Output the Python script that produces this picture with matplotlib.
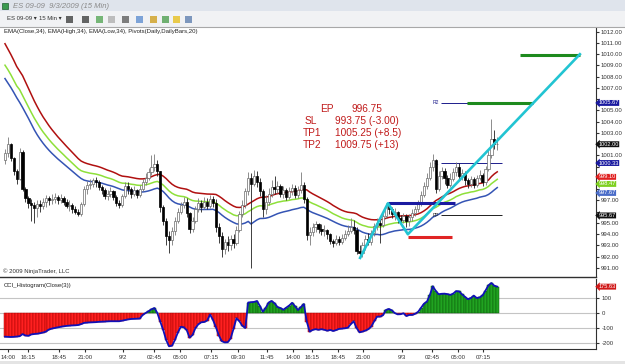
import numpy as np
import matplotlib
matplotlib.use("Agg")
import matplotlib.pyplot as plt
from matplotlib.patches import Rectangle
import matplotlib.transforms as mtransforms

plt.rcParams['font.family'] = ['Liberation Sans', 'DejaVu Sans']

# ---- 15 min ES bars, 9/1 14:00 -> 9/3 ~08:00 ----
first_open = 1000.6
closes = [
    1001.2, 1002.0, 1000.8, 999.6, 998.9, 1001.3, 998.0, 997.2, 996.8, 996.6,
    996.3, 996.7, 996.5, 996.9, 997.2, 997.0, 997.1, 997.3, 997.0, 997.2,
    996.9, 996.5, 996.6, 996.2, 996.0, 995.8, 996.7, 998.0, 998.4, 998.5,
    998.8, 998.6, 998.2, 997.9, 997.4, 997.6, 997.8, 997.3, 996.8, 996.6,
    997.4, 998.3, 998.0, 997.6, 997.9, 997.5, 998.0, 998.6, 999.0, 999.5,
    1000.0, 1000.2, 999.6, 996.4, 995.2, 993.8, 993.5, 994.3, 995.2, 996.0,
    996.6, 996.9, 995.9, 994.5, 995.2, 996.2, 996.8, 996.4, 996.9, 996.5,
    997.1, 996.8, 994.6, 993.8, 992.7, 993.3, 993.0, 993.6, 993.2, 994.4,
    995.8, 996.6, 997.8, 999.0, 998.5, 999.2, 998.6, 997.8, 996.2, 996.9,
    997.6, 998.2, 998.0, 998.3, 997.6, 997.9, 997.3, 997.8, 998.1, 997.5,
    997.9, 998.4, 997.1, 993.9, 994.2, 994.6, 994.9, 994.5, 994.3, 994.4,
    994.0, 993.4, 993.2, 993.6, 993.3, 993.7, 994.0, 994.3, 994.6, 994.4,
    992.5, 992.3, 993.0, 993.6, 993.3, 994.1, 994.7, 995.0, 994.8, 995.6,
    996.5, 996.2, 995.8, 996.0, 995.4, 995.3, 995.6, 995.2, 995.5, 995.9,
    996.2, 996.7, 997.5, 998.3, 999.0, 1000.0, 1000.6, 998.0, 999.2, 999.6,
    999.0, 998.4, 998.9, 999.5, 1000.0, 999.2, 999.4, 998.8, 998.5, 998.9,
    998.4, 999.0, 999.3, 998.6, 999.8, 1001.0, 1002.5, 1002.0, 1002.0,
]
highs = [
    1001.6, 1002.6, 1002.1, 1000.9, 999.8, 1001.7, 1001.5, 998.2, 997.4, 997.1,
    996.9, 997.0, 997.0, 997.2, 997.5, 997.4, 997.6, 997.7, 997.5, 997.6,
    997.4, 997.1, 997.0, 996.8, 996.5, 996.2, 996.9, 998.3, 998.7, 998.9,
    999.0, 999.1, 998.8, 998.4, 998.1, 997.9, 998.2, 997.9, 997.5, 997.0,
    997.6, 998.6, 998.6, 998.2, 998.3, 998.0, 998.4, 998.9, 999.4, 999.9,
    1001.0, 1001.1, 1000.6, 999.5, 996.6, 995.4, 994.3, 994.6, 995.5, 996.3,
    996.9, 997.3, 997.2, 996.0, 995.5, 996.5, 997.2, 997.0, 997.3, 997.2,
    997.5, 997.4, 997.1, 995.0, 994.2, 993.6, 993.8, 993.9, 994.0, 994.7,
    996.1, 997.0, 998.1, 999.5, 999.4, 999.7, 999.6, 999.0, 998.0, 997.5,
    998.1, 998.8, 999.2, 998.7, 998.5, 998.3, 998.1, 998.2, 998.5, 998.4,
    998.3, 999.5, 998.6, 997.3, 994.6, 995.0, 995.2, 995.0, 994.9, 994.8,
    994.5, 994.1, 993.6, 993.9, 993.8, 994.0, 994.4, 994.8, 995.4, 995.3,
    994.6, 993.0, 993.3, 993.9, 994.1, 994.4, 995.0, 995.4, 995.4, 995.9,
    996.8, 996.8, 996.4, 996.3, 996.1, 995.7, 995.9, 995.8, 995.8, 996.2,
    996.5, 997.0, 997.8, 998.6, 999.4, 1000.4, 1001.1, 1000.7, 999.6, 1000.0,
    999.9, 999.3, 999.4, 999.9, 1000.4, 1000.3, 999.8, 999.6, 999.0, 999.2,
    999.1, 999.3, 999.7, 999.4, 1000.1, 1001.5, 1004.2, 1003.3, 1002.6,
]
lows = [
    1000.2, 1000.9, 1000.5, 999.3, 998.5, 998.8, 997.8, 996.9, 996.3, 995.2,
    995.0, 995.5, 996.0, 996.2, 996.4, 996.6, 996.7, 996.8, 996.7, 996.8,
    996.6, 996.3, 996.1, 995.9, 995.8, 995.6, 995.6, 996.5, 997.6, 998.0,
    998.2, 998.2, 997.9, 997.6, 997.1, 997.0, 997.3, 997.0, 996.5, 996.3,
    996.4, 997.2, 997.6, 997.2, 997.4, 997.2, 997.3, 997.8, 998.4, 998.8,
    999.3, 999.6, 999.2, 996.0, 994.8, 993.0, 992.3, 993.0, 993.9, 995.0,
    995.8, 996.3, 995.5, 994.1, 994.2, 995.0, 996.0, 996.0, 996.2, 996.2,
    996.3, 996.4, 994.2, 993.2, 992.0, 992.2, 992.5, 992.6, 992.8, 993.0,
    994.2, 995.5, 996.3, 997.5, 991.0, 998.3, 998.2, 997.4, 995.5, 995.8,
    996.6, 997.3, 997.6, 997.7, 997.3, 997.2, 997.0, 997.1, 997.5, 997.2,
    997.2, 997.7, 996.8, 993.5, 993.0, 993.8, 994.2, 994.1, 993.9, 993.8,
    993.6, 993.1, 992.9, 993.0, 993.0, 993.1, 993.5, 993.8, 994.1, 994.0,
    992.2, 991.9, 992.0, 992.6, 993.0, 993.0, 993.8, 994.4, 993.2, 994.6,
    995.4, 995.8, 995.4, 995.3, 995.0, 994.9, 995.0, 994.6, 994.7, 995.2,
    995.6, 996.0, 996.5, 997.3, 998.0, 998.8, 999.6, 997.7, 997.8, 998.9,
    998.5, 998.1, 998.2, 998.7, 999.2, 998.9, 998.8, 998.4, 998.1, 998.2,
    998.1, 998.2, 998.8, 998.3, 998.4, 999.6, 1000.8, 1001.6, 1001.5,
]
# CCI histogram values per bar
cci = [
    -158, -159, -160, -159, -157, -155, -141, -150, -152, -143,
    -140, -138, -135, -130, -124, -110, -104, -100, -96, -92,
    -89, -86, -84, -83, -82, -80, -74, -66, -64, -63,
    -62, -61, -59, -58, -57, -56, -55, -55, -55, -55,
    -51, -47, -43, -40, -39, -38, -37, -13, 0, 12,
    25, 33, 0, -58, -113, -180, -222, -218, -180, -130,
    -92, -95, -113, -164, -147, -100, -75, -62, -60, -50,
    -10, -47, -95, -150, -188, -196, -195, -170, -105, -35,
    -55, -85, -100, 70, 72, 74, 80, 47, 9, 35,
    70, 80, 65, 40, 33, 22, 36, 50, 68, 45,
    20, 40, 60, -58, -124, -113, -108, -112, -108, -112,
    -118, -113, -120, -114, -106, -104, -102, -98, -75, -55,
    -100, -129, -124, -117, -108, -90, -55, -24, -24, -15,
    20, 27, 18, 0, -9, -8, -2, -20, -13, -13,
    -5, 8, 35, 62, 76, 120, 178, 148, 125, 128,
    129, 126, 121, 130, 146, 144, 124, 108, 92, 100,
    116, 100, 104, 118, 150, 185, 200, 182, 176,
]

# EMA starting levels carried over from the previous session (read at left edge)
ema_seed_high, ema_seed_close, ema_seed_low = 1011.5, 1009.5, 1008.3

# time axis labels (bar index positions)
tick_pos = [0.9, 7.8, 18.4, 27.3, 40.3, 50.9, 59.7, 70.3, 79.5, 89.4, 98.3,
            104.8, 113.7, 122.2, 135.5, 145.7, 154.6, 163.1]
tick_lab = ['14:00', '16:15', '18:45', '21:00', '9/2', '02:45', '05:00', '07:15',
            '09:30', '11:45', '14:00', '16:15', '18:45', '21:00', '9/3', '02:45',
            '05:00', '07:15']
# price-axis levels whose tick text sits under a coloured marker
hidden_price_ticks = [1006, 1002, 1000, 999, 998, 996]

# drawn trade setup
zigzag_x = [121.2, 130.7, 137.5, 196.2]
zigzag_y = [991.9, 996.75, 994.0, 1010.0]
ep, sl, tp1_line, tp2 = 996.75, 993.75, 1005.62, 1009.95
pivots = [('R2', 1005.67, '#1c1c8c'), ('R1', 1000.33, '#1c1c8c'), ('PP', 995.67, '#202020')]
trade_text = [('EP', '996.75'), ('SL', '993.75 (-3.00)'),
              ('TP1', '1005.25 (+8.5)'), ('TP2', '1009.75 (+13)')]


def ema(vals, seed, n=34):
    a = 2.0 / (n + 1)
    out, e = [], seed
    for v in vals:
        e = e + a * (v - e)
        out.append(e)
    return np.array(out)


W, H = 625, 364
fig = plt.figure(figsize=(W / 100, H / 100), dpi=100)
fig.patch.set_facecolor('white')


def fx(x):
    return x / W


def fy(y):
    return 1 - y / H


# window chrome
fig.patches.append(Rectangle((0, fy(11)), 1, 11 / H, transform=fig.transFigure,
                             facecolor='#dfe4ec', edgecolor='none', zorder=0))
fig.patches.append(Rectangle((0, fy(27)), 1, 16 / H, transform=fig.transFigure,
                             facecolor='#f1f2f4', edgecolor='none', zorder=0))
fig.patches.append(Rectangle((fx(2), fy(9)), 6 / W, 6 / H, transform=fig.transFigure,
                             facecolor='#3a9a50', edgecolor='#1e5e30', lw=0.5))
fig.text(fx(13), fy(6), 'ES 09-09  9/3/2009 (15 Min)', fontsize=5.5, color='#8a8a8a',
         va='center', style='italic')
fig.text(fx(7), fy(19), 'ES 09-09 \u25be', fontsize=4.3, color='#333', va='center')
fig.text(fx(39), fy(19), '15 Min \u25be', fontsize=4.3, color='#333', va='center')
icons = [(66, '#404040'), (82, '#404040'), (96, '#58a858'), (108, '#b0b0b0'),
         (122, '#606060'), (136, '#6090d0'), (150, '#d0a020'), (162, '#50a050'),
         (173, '#e8c020'), (185, '#6080b0')]
for ix, col in icons:
    fig.patches.append(Rectangle((fx(ix), fy(23)), 7 / W, 7 / H,
                                 transform=fig.transFigure, facecolor=col,
                                 edgecolor='none', alpha=0.8))
fig.add_artist(plt.Line2D([0, 1], [fy(27), fy(27)], transform=fig.transFigure,
                          color='#a8a8a8', lw=0.8))

# ---- price panel ----
ax = fig.add_axes([0, fy(277), 596 / W, (277 - 28) / H])
n = len(closes)
idx = np.arange(n)
opens = [first_open] + closes[:-1]

ax.plot(idx, ema(highs, ema_seed_high), color='#b01010', lw=1.1, zorder=2)
ax.plot(idx, ema(closes, ema_seed_close), color='#8ee03a', lw=1.1, zorder=2)
ax.plot(idx, ema(lows, ema_seed_low), color='#3454b4', lw=1.1, zorder=2)

for i in range(n):
    o, c = opens[i], closes[i]
    hi, lo = max(highs[i], o, c), min(lows[i], o, c)
    up = c >= o
    ax.vlines(i, lo, hi, color='#7a7a7a' if up else '#202020', lw=0.6, zorder=3)
    ax.add_patch(Rectangle((i - 0.38, min(o, c)), 0.76, max(abs(c - o), 0.06),
                           facecolor='white' if up else 'black',
                           edgecolor='#6a6a6a' if up else 'black', lw=0.5, zorder=4))

# pivots
for name, lvl, col in pivots:
    ax.hlines(lvl, 148.8, 169.6, color=col, lw=0.7, zorder=2)
    ax.text(146.0, lvl, name, fontsize=3.6, color=col, va='center', ha='left')

# trade setup drawing
ax.hlines(ep, 130.7, 153.6, color='#1a1aa0', lw=2.2, zorder=5)
ax.hlines(sl, 137.5, 152.6, color='#e02424', lw=2.2, zorder=5)
ax.hlines(tp1_line, 157.7, 180.2, color='#1d8a1d', lw=2.2, zorder=5)
ax.hlines(tp2, 175.8, 196.2, color='#1d8a1d', lw=2.2, zorder=5)
ax.plot(zigzag_x, zigzag_y, color='#22c4d2', lw=1.9, zorder=6)

ax.set_xlim(-1.7, 201.7)
ax.set_ylim(990.2, 1012.33)
ax.yaxis.tick_right()
price_ticks = np.arange(991, 1013, 1.0)
ax.set_yticks(price_ticks)
ax.set_yticklabels(['' if v in hidden_price_ticks else f'{v:.2f}' for v in price_ticks])
ax.tick_params(axis='y', labelsize=4.3, length=2.5, pad=1, colors='#333')
ax.set_xticks([])
for s in ['left', 'top']:
    ax.spines[s].set_visible(False)
ax.spines['right'].set_color('#303030')
ax.spines['bottom'].set_color('#303030')
ax.spines['right'].set_linewidth(0.8)
ax.spines['bottom'].set_linewidth(1.0)

# price markers on the axis
blend = mtransforms.blended_transform_factory(ax.transAxes, ax.transData)
markers = [(1005.67, '#1a1aa0'), (1002.00, '#111111'), (1000.33, '#1a1aa0'),
           (999.10, '#e02020'), (998.47, '#7ed020'), (997.67, '#4a6cc8'),
           (995.67, '#111111')]
for val, bg in markers:
    ax.text(1.004, val, f'{val:.2f}', transform=blend, fontsize=4.1, color='white',
            va='center', ha='left', clip_on=False, zorder=10,
            bbox=dict(boxstyle='larrow,pad=0.08', facecolor=bg, edgecolor='none'))

fig.text(fx(4), fy(31), 'EMA(Close,34), EMA(High,34), EMA(Low,34), Pivots(Daily,DailyBars,20)',
         fontsize=4.3, color='#222', va='center')
fig.text(fx(3), fy(271.5), '\u00a9 2009 NinjaTrader, LLC', fontsize=4.3, color='#333',
         va='center')

label_x = [320, 305, 303, 303]
value_x = [352, 335, 335, 335]
row_y = [109, 121, 133, 145]
for (lab, val), lx, vx, ry in zip(trade_text, label_x, value_x, row_y):
    fig.text(fx(lx), fy(ry), lab, fontsize=7.3, color='#c01a1a', va='center')
    fig.text(fx(vx), fy(ry), val, fontsize=7.3, color='#c01a1a', va='center')

# ---- CCI panel ----
ax2 = fig.add_axes([0, fy(349), 596 / W, (349 - 279) / H])
cci_a = np.array(cci)
for lvl in [100, 0, -100, -200]:
    ax2.axhline(lvl, color='#c4c4c4', lw=0.8, zorder=0)
cols = ['#21a321' if v >= 0 else '#ff2020' for v in cci_a]
edges = ['#0b5a0b' if v >= 0 else '#a30000' for v in cci_a]
ax2.bar(idx, cci_a, width=1.0, color=cols, edgecolor=edges, linewidth=0.35, zorder=2)
ax2.plot(idx, cci_a, color='#1010b8', lw=1.3, zorder=3)
ax2.set_xlim(-1.7, 201.7)
ax2.set_ylim(-240, 226.7)
ax2.yaxis.tick_right()
ax2.set_yticks([100, 0, -100, -200])
ax2.set_yticklabels(['100', '0', '-100', '-200'])
ax2.set_xticks(tick_pos)
ax2.set_xticklabels(tick_lab)
ax2.tick_params(axis='both', labelsize=4.3, length=2.5, pad=1.5, colors='#333')
ax2.spines['left'].set_visible(False)
ax2.spines['top'].set_visible(False)
ax2.spines['right'].set_color('#303030')
ax2.spines['bottom'].set_color('#303030')
blend2 = mtransforms.blended_transform_factory(ax2.transAxes, ax2.transData)
ax2.text(1.004, 175.63, '175.63', transform=blend2, fontsize=4.1, color='white',
         va='center', ha='left', clip_on=False, zorder=10,
         bbox=dict(boxstyle='larrow,pad=0.08', facecolor='#d01818', edgecolor='none'))
fig.text(fx(4), fy(286), 'CCI_Histogram(Close(3))', fontsize=4.3, color='#222', va='center')

fig.patches.append(Rectangle((0, 0), 1, 3 / H, transform=fig.transFigure,
                             facecolor='#e4e4e4', edgecolor='none'))

fig.savefig('out.png', dpi=100)
